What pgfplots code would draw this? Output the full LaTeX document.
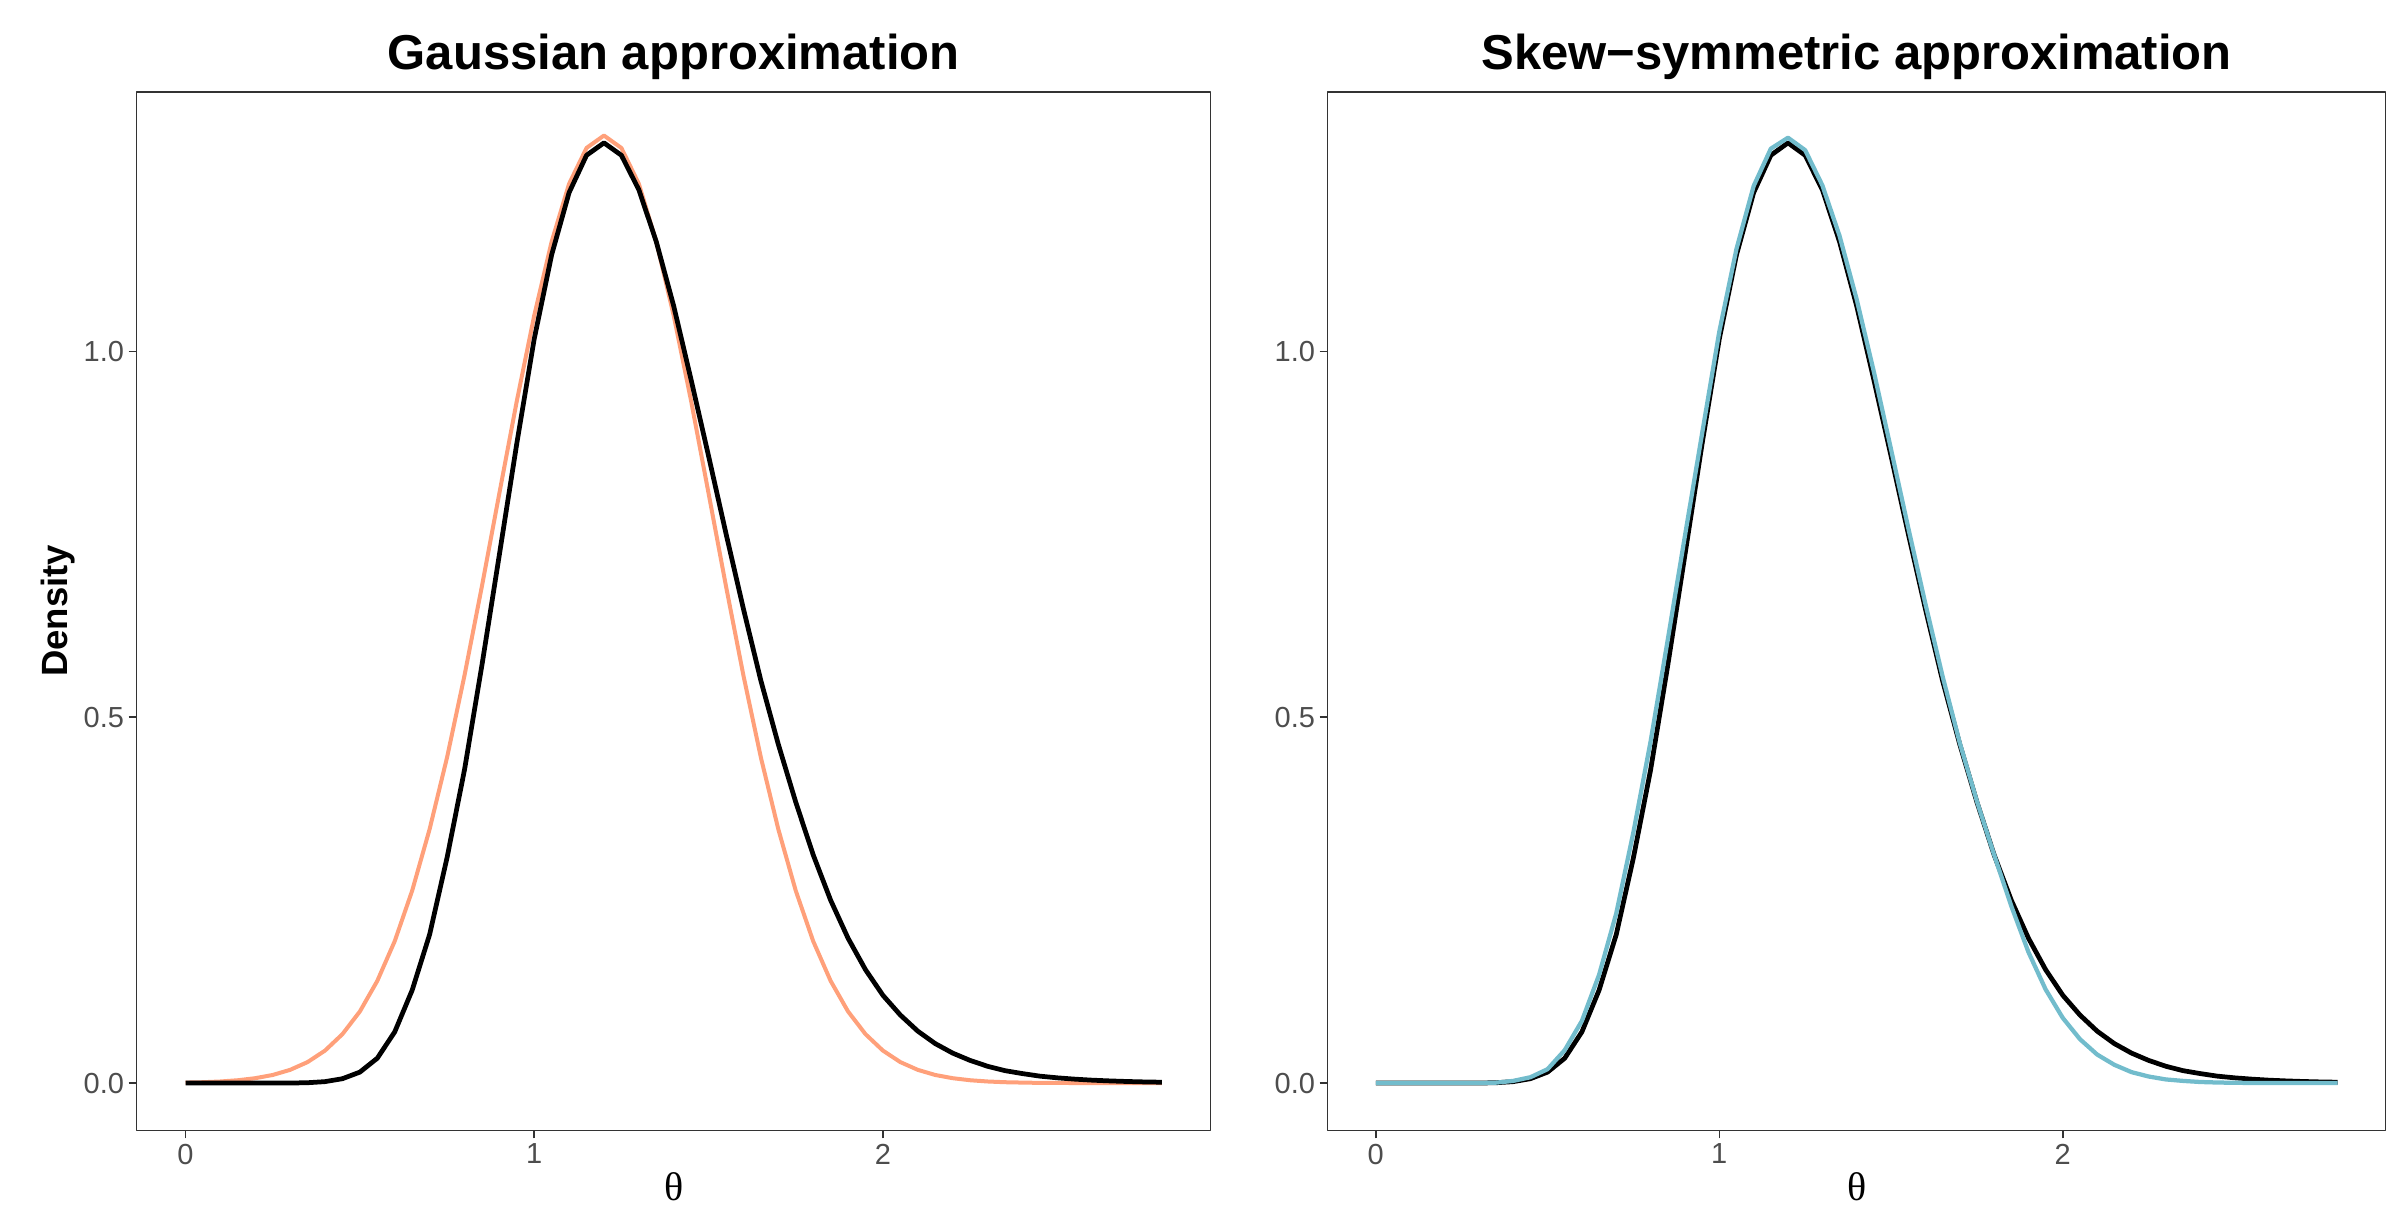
\documentclass[border=0pt]{standalone}
\usepackage{fontspec}
\setmainfont{Liberation Sans}
\newfontfamily\greekserif{Liberation Serif}
\usepackage{pgfplots}
\usepackage{pgfplotstable}
\pgfplotsset{compat=1.18}

\definecolor{salmon}{HTML}{FFA07A}
\definecolor{tealc}{HTML}{72BCCC}
\definecolor{ticktext}{HTML}{4D4D4D}
\definecolor{frame}{HTML}{333333}

% theta, exact posterior, Gaussian approx, skew-symmetric approx
\pgfplotstableread{
theta exact  gauss   skew
0.00  0      0.0007  0
0.05  0      0.0012  0
0.10  0      0.0022  0
0.15  0      0.0039  0
0.20  0      0.0067  0
0.25  0      0.0111  0
0.30  0.0001 0.0181  0.0001
0.35  0.0005 0.0287  0.0006
0.40  0.002  0.0444  0.003
0.45  0.006  0.0669  0.008
0.50  0.015  0.0979  0.019
0.55  0.034  0.1397  0.045
0.60  0.070  0.194   0.085
0.65  0.127  0.263   0.148
0.70  0.203  0.347   0.232
0.75  0.308  0.445   0.343
0.80  0.428  0.557   0.467
0.85  0.571  0.679   0.606
0.90  0.722  0.806   0.748
0.95  0.874  0.932   0.888
1.00  1.017  1.049   1.027
1.05  1.132  1.150   1.140
1.10  1.217  1.229   1.226
1.15  1.268  1.278   1.277
1.20  1.285  1.295   1.292
1.25  1.268  1.278   1.275
1.30  1.221  1.229   1.227
1.35  1.150  1.150   1.158
1.40  1.062  1.049   1.071
1.45  0.961  0.932   0.972
1.50  0.857  0.806   0.866
1.55  0.751  0.679   0.759
1.60  0.648  0.557   0.655
1.65  0.550  0.445   0.556
1.70  0.463  0.347   0.465
1.75  0.384  0.263   0.385
1.80  0.312  0.194   0.312
1.85  0.250  0.1397  0.242
1.90  0.198  0.0979  0.179
1.95  0.155  0.0669  0.128
2.00  0.120  0.0444  0.089
2.05  0.093  0.0287  0.060
2.10  0.071  0.0181  0.039
2.15  0.054  0.0111  0.025
2.20  0.041  0.0067  0.015
2.25  0.031  0.0039  0.009
2.30  0.023  0.0022  0.005
2.35  0.017  0.0012  0.003
2.40  0.013  0.0007  0.0015
2.45  0.0095 0.0003  0.0008
2.50  0.0072 0.0002  0.0004
2.55  0.0054 0.0001  0.0002
2.60  0.0040 0       0.0001
2.65  0.0030 0       0
2.70  0.0022 0       0
2.75  0.0016 0       0
2.80  0.0012 0       0
}\dens

\pgfplotsset{
  panel/.style={
    scale only axis,
    height=207.66pt,
    xmin=-0.14, xmax=2.94,
    ymin=-0.0645, ymax=1.3545,
    xtick={0,1,2},
    ytick={0,0.5,1},
    yticklabels={0.0,0.5,1.0},
    tick align=outside,
    xtick pos=bottom, ytick pos=left,
    major tick length=1.6pt,
    tick style={frame, line width=0.3pt},
    axis line style={frame, line width=0.3pt},
    tick label style={font=\fontsize{5.8}{6}\selectfont, text=ticktext, inner sep=0pt},
    xticklabel style={yshift=-0.9pt},
    yticklabel style={xshift=-0.75pt},
    /pgf/number format/assume math mode=true,
    title style={at={(0.5,1)}, anchor=base, yshift=-1.6pt,
      font=\bfseries\fontsize{9.8}{12}\selectfont},
    xlabel={\greekserif θ},
    xlabel style={at={(0.5,0)}, anchor=base, yshift=-14pt, inner sep=0pt,
      font=\fontsize{8}{9}\selectfont},
    line join=round,
  }
}

\begin{document}
\begin{tikzpicture}
% page frame, 2387 x 1206 px at 0.2pt per px
\path (0pt,0pt) rectangle (477.4pt,241.2pt);

\begin{axis}[panel, width=214.8pt,
  at={(27.34pt,15.14pt)}, anchor=south west,
  title={Gaussian approximation}]
\addplot[salmon, line width=0.8pt] table[x=theta, y=gauss] {\dens};
\addplot[black, line width=0.95pt] table[x=theta, y=exact] {\dens};
\end{axis}

\node[rotate=90, anchor=base, font=\bfseries\fontsize{7.3}{9}\selectfont]
  at (13.5pt,119pt) {Density};

\begin{axis}[panel, width=211.6pt,
  at={(265.54pt,15.14pt)}, anchor=south west,
  title={Skew\textminus symmetric approximation}]
\addplot[black, line width=0.95pt] table[x=theta, y=exact] {\dens};
\addplot[tealc, line width=0.85pt] table[x=theta, y=skew] {\dens};
\end{axis}
\end{tikzpicture}
\end{document}
